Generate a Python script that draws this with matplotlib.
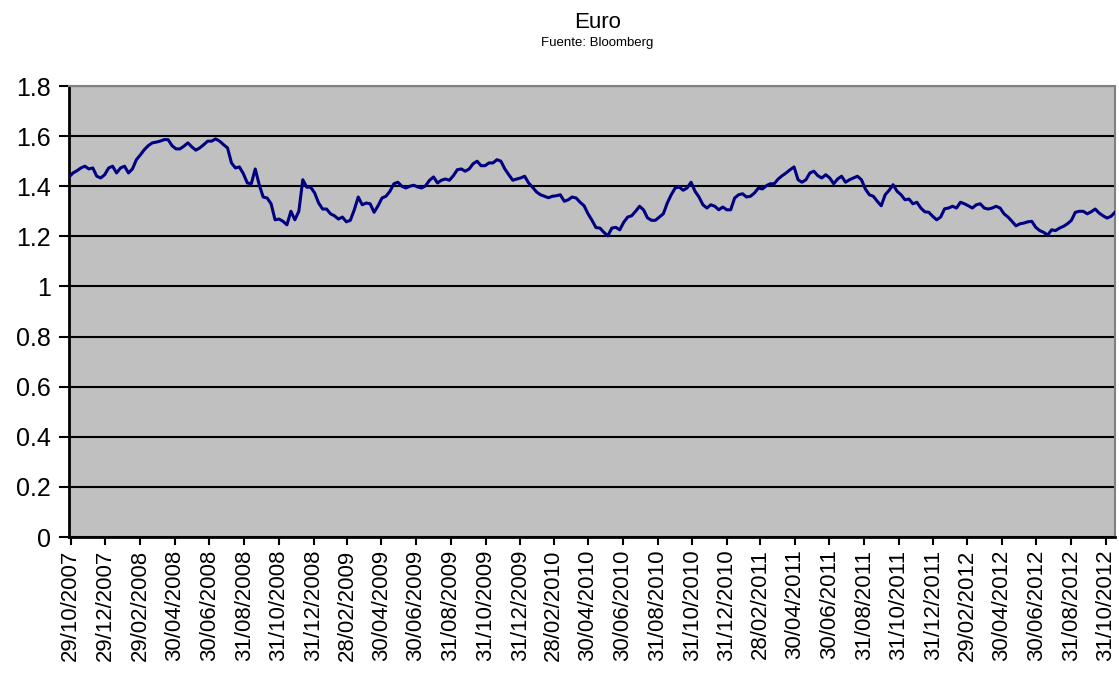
import matplotlib
matplotlib.use("Agg")
import matplotlib.pyplot as plt
import matplotlib.ticker as mticker
import pandas as pd

plt.rcParams['font.family'] = ['Liberation Sans', 'DejaVu Sans']

# Weekly EUR/USD readings (Fridays) from 26/10/2007
start_date = "2007-10-26"
euro = [
    1.437, 1.453, 1.462, 1.473, 1.480, 1.469, 1.473, 1.440, 1.433, 1.446,
    1.473, 1.480, 1.453, 1.473, 1.480, 1.453, 1.469, 1.506, 1.525, 1.546,
    1.562, 1.573, 1.576, 1.580, 1.586, 1.586, 1.562, 1.549, 1.549, 1.560,
    1.573, 1.557, 1.544, 1.553, 1.566, 1.580, 1.580, 1.589, 1.580, 1.566,
    1.553, 1.493, 1.473, 1.477, 1.450, 1.413, 1.410, 1.469, 1.406, 1.357,
    1.353, 1.330, 1.266, 1.269, 1.260, 1.246, 1.300, 1.266, 1.300, 1.426,
    1.396, 1.396, 1.373, 1.333, 1.309, 1.309, 1.290, 1.282, 1.269, 1.277,
    1.258, 1.264, 1.306, 1.357, 1.326, 1.333, 1.330, 1.296, 1.322, 1.353,
    1.360, 1.380, 1.410, 1.416, 1.400, 1.393, 1.400, 1.404, 1.397, 1.393,
    1.402, 1.424, 1.437, 1.413, 1.424, 1.429, 1.424, 1.442, 1.466, 1.469,
    1.460, 1.469, 1.490, 1.500, 1.482, 1.482, 1.493, 1.493, 1.506, 1.500,
    1.469, 1.446, 1.424, 1.429, 1.433, 1.440, 1.413, 1.396, 1.377, 1.366,
    1.360, 1.354, 1.360, 1.362, 1.366, 1.340, 1.346, 1.357, 1.353, 1.336,
    1.322, 1.290, 1.264, 1.235, 1.233, 1.216, 1.202, 1.233, 1.236, 1.226,
    1.256, 1.277, 1.282, 1.300, 1.320, 1.306, 1.274, 1.264, 1.264, 1.277,
    1.290, 1.333, 1.366, 1.393, 1.397, 1.384, 1.393, 1.416, 1.380, 1.357,
    1.326, 1.313, 1.326, 1.320, 1.306, 1.317, 1.306, 1.306, 1.353, 1.366,
    1.370, 1.357, 1.360, 1.373, 1.393, 1.389, 1.402, 1.410, 1.410, 1.429,
    1.442, 1.453, 1.466, 1.477, 1.426, 1.416, 1.426, 1.453, 1.460, 1.442,
    1.433, 1.446, 1.433, 1.410, 1.429, 1.440, 1.416, 1.426, 1.433, 1.440,
    1.426, 1.389, 1.366, 1.360, 1.340, 1.322, 1.366, 1.384, 1.406, 1.380,
    1.366, 1.346, 1.349, 1.330, 1.336, 1.313, 1.298, 1.296, 1.280, 1.266,
    1.277, 1.310, 1.313, 1.320, 1.313, 1.336, 1.330, 1.322, 1.313, 1.326,
    1.330, 1.313, 1.309, 1.313, 1.320, 1.313, 1.290, 1.277, 1.260, 1.242,
    1.250, 1.253, 1.258, 1.260, 1.236, 1.223, 1.216, 1.205, 1.226, 1.223,
    1.233, 1.240, 1.250, 1.264, 1.296, 1.300, 1.300, 1.290, 1.298, 1.309,
    1.293, 1.282, 1.273, 1.280, 1.296,
]

tick_labels = [
    "29/10/2007", "29/12/2007", "29/02/2008", "30/04/2008", "30/06/2008",
    "31/08/2008", "31/10/2008", "31/12/2008", "28/02/2009", "30/04/2009",
    "30/06/2009", "31/08/2009", "31/10/2009", "31/12/2009", "28/02/2010",
    "30/04/2010", "30/06/2010", "31/08/2010", "31/10/2010", "31/12/2010",
    "28/02/2011", "30/04/2011", "30/06/2011", "31/08/2011", "31/10/2011",
    "31/12/2011", "29/02/2012", "30/04/2012", "30/06/2012", "31/08/2012",
    "31/10/2012",
]
y_ticks = [0, 0.2, 0.4, 0.6, 0.8, 1, 1.2, 1.4, 1.6, 1.8]

dates = pd.date_range(start_date, periods=len(euro), freq="7D")
tick_dates = pd.to_datetime(tick_labels, format="%d/%m/%Y")

fig = plt.figure(figsize=(11.19, 6.87), dpi=100)
ax = fig.add_axes([0.0617, 0.2183, 0.9347, 0.6565])
ax.set_facecolor("#C0C0C0")

ax.plot(dates, euro, color="#000080", linewidth=2.2, zorder=3)

ax.set_ylim(0, 1.8)
ax.set_yticks(y_ticks)
ax.yaxis.set_major_formatter(mticker.FormatStrFormatter("%g"))
ax.set_xlim(dates[0], dates[-1])
ax.set_xticks(tick_dates)
ax.set_xticklabels(tick_labels, rotation=90, fontsize=16)
ax.tick_params(axis="y", labelsize=18, length=7, width=1.5, direction="out", pad=6)
ax.tick_params(axis="x", length=6, width=1.5, direction="out", pad=3)

ax.grid(axis="y", color="black", linewidth=1.5, zorder=1)
ax.set_axisbelow(True)
for s in ["top", "right"]:
    ax.spines[s].set_color("#808080")
    ax.spines[s].set_linewidth(1.5)
ax.spines["left"].set_linewidth(2)
ax.spines["bottom"].set_linewidth(2)

fig.text(0.534, 0.967, "Euro", ha="center", va="center", fontsize=16)
fig.text(0.534, 0.937, "Fuente: Bloomberg", ha="center", va="center", fontsize=9.5)

fig.savefig("out.png", dpi=100)
